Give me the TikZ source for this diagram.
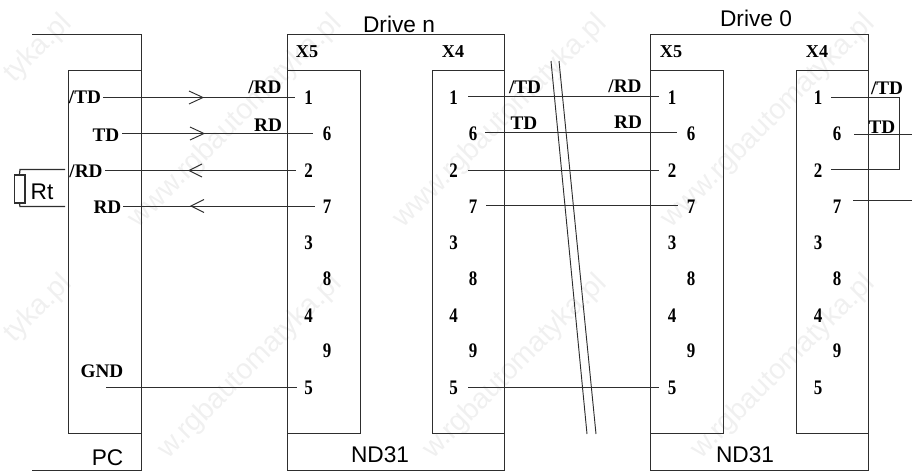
\documentclass[tikz,border=0pt]{standalone}
\usepackage{fontspec}
\setmainfont{Liberation Sans}
\newfontfamily\serifb{Liberation Serif Bold}
\newfontfamily\pinf[FakeStretch=0.82]{Liberation Serif Bold}
\definecolor{ink}{gray}{0.18}
\definecolor{mark}{gray}{0.94}
\tikzset{
  frame/.style={draw=ink,line width=0.75pt},
  wire/.style={draw=ink,line width=0.7pt},
  pin/.style={inner sep=0pt,font=\fontsize{15.5}{15.5}\pinf},
  sig/.style={inner sep=0pt,font=\fontsize{14.4}{14.4}\serifb},
  conn/.style={inner sep=0pt,font=\fontsize{13.6}{13.6}\serifb},
  title/.style={inner sep=0pt,font=\fontsize{17}{17}\selectfont},
  stamp/.style={inner sep=0pt,text=mark,anchor=east,rotate=45,font=\fontsize{21.5}{21.5}\selectfont}
}
\newcommand{\pinset}[3]{%
  \node[pin] (#1-1) at (#2,97.5) {1};
  \node[pin] (#1-6) at (#3,134) {6};
  \node[pin] (#1-2) at (#2,171) {2};
  \node[pin] (#1-7) at (#3,206.5) {7};
  \node[pin] (#1-3) at (#2,243) {3};
  \node[pin] (#1-8) at (#3,279) {8};
  \node[pin] (#1-4) at (#2,316) {4};
  \node[pin] (#1-9) at (#3,351) {9};
  \node[pin] (#1-5) at (#2,388) {5};
}
\begin{document}
\begin{tikzpicture}[x=0.75pt,y=-0.75pt]
\clip (0,0) rectangle (912,472);
% faint stamps
\node[stamp] (stampa) at (67.6,19.4) {tyka.pl};
\node[stamp] (stampb) at (337.6,19.4) {www.rgbautomatyka.pl};
\node[stamp] (stampc) at (602.6,19.4) {www.rgbautomatyka.pl};
\node[stamp] (stampd) at (870.6,19.4) {www.rgbautomatyka.pl};
\node[stamp] (stampe) at (67.6,279.4) {tyka.pl};
\node[stamp] (stampf) at (337.6,279.4) {w.rgbautomatyka.pl};
\node[stamp] (stampg) at (602.6,279.4) {w.rgbautomatyka.pl};
\node[stamp] (stamph) at (870.6,279.4) {w.rgbautomatyka.pl};
% PC housing
\draw[frame] (32,34) -- (141,34) -- (141,470) -- (32,470);
\draw[frame] (141,70) -- (68,70) -- (68,433) -- (141,433);
% Drive n housing
\draw[frame] (287,34) rectangle (504,470);
\draw[frame] (287,70) -- (360,70) -- (360,433) -- (287,433);
\draw[frame] (504,70) -- (432,70) -- (432,433) -- (504,433);
% Drive 0 housing
\draw[frame] (650,34) rectangle (868,470);
\draw[frame] (650,70) -- (723,70) -- (723,433) -- (650,433);
\draw[frame] (868,70) -- (796,70) -- (796,433) -- (868,433);
% titles
\node[title] (driven) at (399,24) {Drive n};
\node[title] (drive0) at (756,18) {Drive 0};
\node[title] (pc) at (107.5,458) {PC};
\node[title] (ndn) at (380,455) {ND31};
\node[title] (ndz) at (745,455) {ND31};
% connector names
\node[conn] (x5n) at (307,52) {X5};
\node[conn] (x4n) at (453,52) {X4};
\node[conn] (x5z) at (671,52) {X5};
\node[conn] (x4z) at (817,52) {X4};
% pins
\pinset{an}{308.5}{327}
\pinset{bn}{453.5}{473}
\pinset{az}{672}{691}
\pinset{bz}{818}{837}
% PC signals
\node[sig] (ptd) at (85,97) {/TD};
\node[sig] (pt) at (106,135) {TD};
\node[sig] (prd) at (86,171) {/RD};
\node[sig] (pr) at (107.5,207) {RD};
\node[sig] (pg) at (102,371) {GND};
% other signals
\node[sig] (s1) at (265,87) {/RD};
\node[sig] (s2) at (268,125) {RD};
\node[sig] (s3) at (525,87) {/TD};
\node[sig] (s4) at (524,123.5) {TD};
\node[sig] (s5) at (625,86) {/RD};
\node[sig] (s6) at (628,122) {RD};
\node[sig] (s7) at (887,88) {/TD};
\node[sig] (s8) at (882,127) {TD};
\coordinate (w5) at (106,387);
% PC to Drive n
\draw[wire] (103,97.5) -- (295,97.5);
\draw[wire] (122,133.5) -- (313,133.5);
\draw[wire] (105,170.5) -- (296,170.5);
\draw[wire] (123,206) -- (315,206);
\draw[wire] (w5) -- (297,387);
% chevrons
\draw[wire] (189,91) -- (203,97.5) -- (189,104);
\draw[wire] (190,127) -- (204,133.5) -- (190,140);
\draw[wire] (202,164) -- (189,170.5) -- (202,177);
\draw[wire] (204,199.5) -- (191,206) -- (204,212.5);
% Drive n to Drive 0
\draw[wire] (468,96.5) -- (659,96.5);
\draw[wire] (485,132) -- (677,132);
\draw[wire] (468,170.5) -- (659,170.5);
\draw[wire] (486,205) -- (678,205);
\draw[wire] (468,387) -- (659,387);
% break marks
\draw[wire] (551,61) -- (587,434);
\draw[wire] (559,61) -- (596,434);
% Drive 0 X4
\draw[wire] (831,97.5) -- (899,97.5) -- (899,169) -- (831,169);
\coordinate (e6) at (912,134);
\coordinate (e7) at (912,200);
\draw[wire] (854,134) -- (e6);
\draw[wire] (853,200) -- (e7);
% terminating resistor
\node[title] (rt) at (42,192) {Rt};
\node[draw=ink,line width=1pt,minimum width=8pt,minimum height=21pt,inner sep=0pt] (rbox) at (19.5,189) {};
\coordinate (r1) at (65,169.5);
\coordinate (r2) at (65,206.5);
\draw[draw=ink,line width=0.9pt] (rbox.north) -- (20,169.5) -- (r1);
\draw[draw=ink,line width=0.9pt] (rbox.south) -- (20,206.5) -- (r2);
\end{tikzpicture}
\end{document}
